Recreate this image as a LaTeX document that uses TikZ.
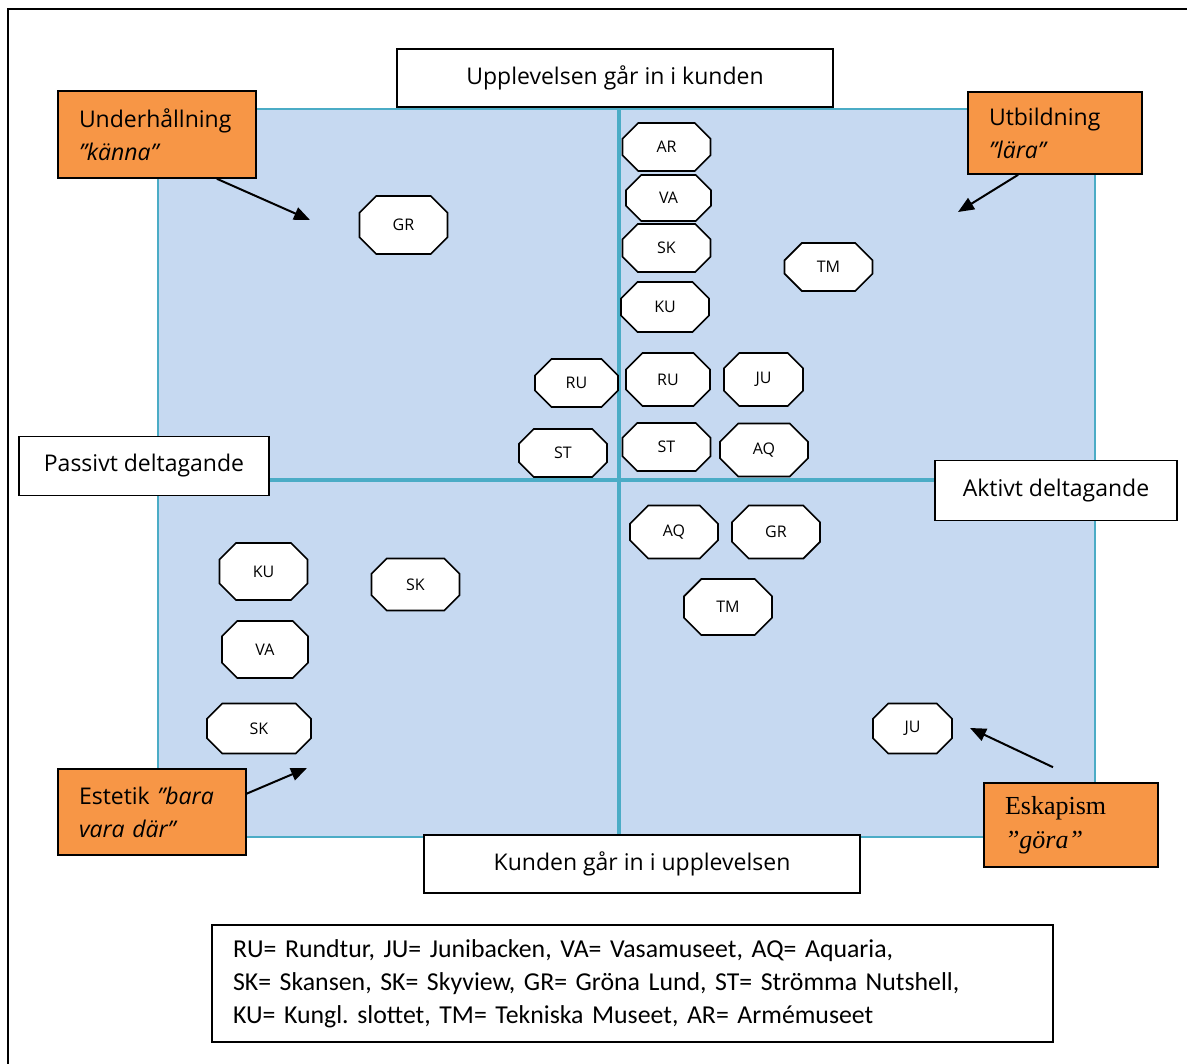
\documentclass[tikz,border=0pt]{standalone}
\usepackage{fontspec}
\setmainfont{Open Sans}
\newfontfamily\calibrifont{Carlito}
\newfontfamily\timesfont{Liberation Serif}
\usetikzlibrary{shapes.misc,arrows.meta,calc}
\definecolor{quadblue}{RGB}{198,217,241}
\definecolor{quadline}{RGB}{75,172,198}
\definecolor{typeorange}{RGB}{247,150,70}
\frenchspacing

\begin{document}
\begin{tikzpicture}[x=0.5pt,y=-0.5pt,
  axisbox/.style={draw,line width=0.8pt,fill=white,minimum width=#1,minimum height=29pt,
    inner sep=0pt,font=\fontsize{11.5}{14}\selectfont},
  typebox/.style={draw,line width=0.8pt,fill=typeorange,inner xsep=10.5pt,inner ysep=0pt,
    text width=#1,align=left,font=\fontsize{11.5}{16.5}\selectfont},
  site/.style={chamfered rectangle,chamfered rectangle sep=7.5pt,draw,line width=0.8pt,fill=white,
    inner sep=0pt,minimum width=44pt,minimum height=24pt,font=\fontsize{8}{10}\selectfont},
  arr/.style={-{Triangle[length=8pt,width=6.5pt]},line width=1pt}]
\useasboundingbox (0,0) rectangle (1187,1064);
% Outer frame
\draw[line width=1pt] (8,1064) -- (8,9) -- (1187,9);
% Quadrants
\draw[quadline,line width=1pt,fill=quadblue] (158,109) rectangle (1095,837);
\draw[quadline,line width=1.6pt] (619,109) -- (619,837);
\draw[quadline,line width=1.6pt] (158,480) -- (1095,480);
% Axis labels
\node[axisbox=218pt] (topaxis) at (615,78) {Upplevelsen går in i kunden};
\node[axisbox=218pt] (bottomaxis) at (642,864) {Kunden går in i upplevelsen};
\node[axisbox=125pt,minimum height=29.5pt] (passive) at (144,466) {Passivt deltagande};
\node[axisbox=121pt,minimum height=30pt] (active) at (1056,490.5) {Aktivt deltagande};
% Sites, upper half
\node[site,minimum height=29pt] (gr1) at (403.5,225) {GR};
\node[site] (ar1) at (666.5,147) {AR};
\node[site,minimum width=42.5pt,minimum height=23pt] (va1) at (668.5,198) {VA};
\node[site] (sk1) at (666.5,248) {SK};
\node[site,minimum height=25pt] (ku1) at (665,307) {KU};
\node[site] (tm1) at (828.5,267) {TM};
\node[site,minimum width=41.5pt] (ru1) at (576.5,383) {RU};
\node[site,minimum width=42pt,minimum height=26.5pt] (ru2) at (668,379.5) {RU};
\node[site,minimum width=39.5pt,minimum height=26.5pt] (ju1) at (763.5,379.5) {JU};
\node[site] (st1) at (563,453) {ST};
\node[site] (st2) at (666.5,447) {ST};
\node[site,minimum height=26.5pt] (aq1) at (764,450) {AQ};
% Sites, lower half
\node[site,minimum height=26.5pt] (aq2) at (674,532) {AQ};
\node[site,minimum height=26.5pt] (gr2) at (776,532) {GR};
\node[site,minimum height=28pt] (tm2) at (728,607) {TM};
\node[site,minimum height=28.5pt] (ku2) at (263.5,571.5) {KU};
\node[site,minimum height=26pt] (sk2) at (415.5,584.5) {SK};
\node[site,minimum width=43pt,minimum height=28.5pt] (va2) at (265,649.5) {VA};
\node[site,minimum width=52pt,minimum height=25pt] (sk3) at (259,728.5) {SK};
\node[site,minimum width=39.5pt,minimum height=25pt] (ju2) at (912.5,728.5) {JU};
% Experience types
\node[typebox=78pt,minimum height=43.5pt] (underh) at (157,134.5) {Underhållning\\\textit{”känna”}};
\node[typebox=66pt,minimum height=41pt] (utbild) at (1055,133) {Utbildning\\\textit{”lära”}};
\node[typebox=73pt,minimum height=43pt] (estetik) at (152,812) {Estetik \textit{”bara}\\\textit{vara där”}};
\node[typebox=66pt,minimum height=42pt,font=\timesfont\fontsize{13}{17}\selectfont] (eskap) at (1071,825) {Eskapism\\\textit{”göra”}};
% Arrows
\coordinate (underhtip) at (310,220);
\coordinate (utbildtip) at (958,212);
\coordinate (estetiktip) at (307,768);
\coordinate (eskaptip) at (970,728);
\draw[arr] ($(underh.south west)!0.8!(underh.south east)$) -- (underhtip);
\draw[arr] ($(utbild.south west)!0.29!(utbild.south east)$) -- (utbildtip);
\draw[arr] ($(estetik.north east)!0.29!(estetik.south east)$) -- (estetiktip);
\draw[arr] ([shift={(-18,-15)}]eskap.north) -- (eskaptip);
% Legend
\node[draw,line width=0.8pt,fill=white,inner xsep=10.5pt,inner ysep=0pt,text width=399.5pt,
  minimum height=58.5pt,align=left,font=\calibrifont\fontsize{12.9}{16.5}\selectfont] (legend) at (632.5,983.5)
  {RU= Rundtur, JU= Junibacken, VA= Vasamuseet, AQ= Aquaria,\\
   SK= Skansen, SK= Skyview, GR= Gröna Lund, ST= Strömma Nutshell,\\
   KU= Kungl. slottet, TM= Tekniska Museet, AR= Armémuseet};
\end{tikzpicture}
\end{document}
